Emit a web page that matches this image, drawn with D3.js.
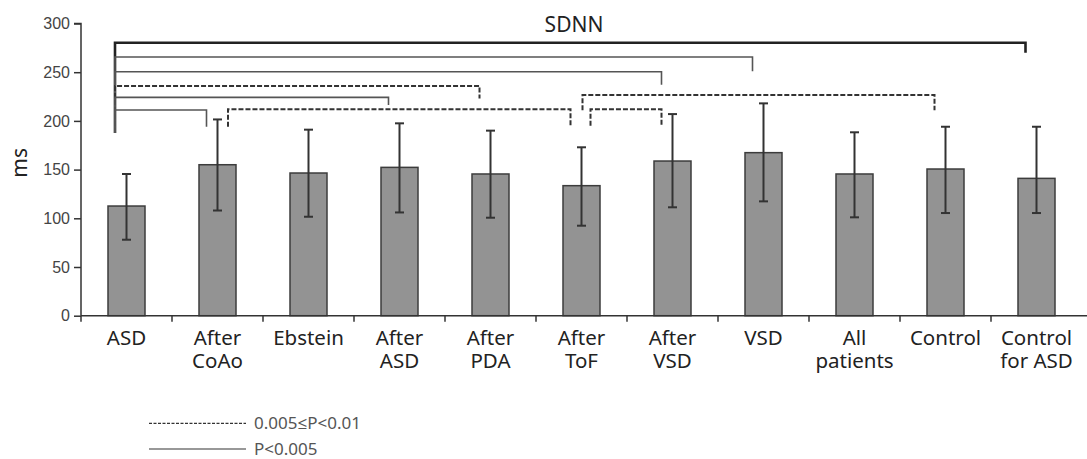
<!DOCTYPE html>
<html>
<head>
<meta charset="utf-8">
<script src="https://cdn.jsdelivr.net/npm/d3@7"></script>
<style>
  body { margin: 0; background: #fff; }
  svg { display: block; font-family: "Noto Sans", "Open Sans", sans-serif; }
</style>
</head>
<body>
<svg width="1087" height="459"></svg>
<script>
const categories = [
  ["ASD"], ["After", "CoAo"], ["Ebstein"], ["After", "ASD"], ["After", "PDA"],
  ["After", "ToF"], ["After", "VSD"], ["VSD"], ["All", "patients"], ["Control"],
  ["Control", "for ASD"]
];
const means = [112.6, 155, 146.5, 152.3, 145.5, 133.5, 158.8, 167.4, 145.5, 150.6, 141];
const err_low = [78, 108, 101.6, 106, 100.6, 92.4, 111.3, 117.4, 101, 105.4, 105.4];
const err_high = [145.5, 201.5, 191, 197.5, 190, 172.9, 207, 218, 188.3, 194, 194];
const y_ticks = [0, 50, 100, 150, 200, 250, 300];

// comparisons: from bar, to bar, level (ms), end of right leg (ms), end of left leg (ms), style
const cmp_from = [0, 0, 0, 0, 0, 0, 1, 5, 5];
const cmp_to = [10, 7, 6, 4, 3, 1, 5, 9, 6];
const cmp_level = [280.3, 265.6, 250.5, 235.8, 224.2, 211.2, 212, 226.6, 212];
const cmp_right_end = [270, 251, 237, 223, 216.3, 194, 195, 211, 195];
const cmp_left_end = [187.6, 187.6, 187.6, 187.6, 187.6, 187.6, 194, 211, 195];
const cmp_type = ["thick", "solid", "solid", "dash", "solid", "solid", "dash", "dash", "dash"];

const legend_labels = ["0.005\u2264P<0.01", "P<0.005"];

// layout
const left_leg_dx = [-11.5, -11.5, -11.5, -11.5, -11.5, -11.5, 10.5, 1, 9];
const right_leg_dx = -11;

const svg = d3.select("svg");
const margin = { left: 81, right: 5, top: 23.5, bottom: 143.3 };
const width = 1087, height = 459;

const x = d3.scaleBand()
  .domain(d3.range(categories.length))
  .range([margin.left, 1082])
  .paddingInner(0);

const y = d3.scaleLinear()
  .domain([0, 300])
  .range([height - margin.bottom, margin.top]);

const bar_w = 37;

// y axis
const y_axis = d3.axisLeft(y)
  .tickValues(y_ticks)
  .tickSize(7)
  .tickPadding(4);

const gy = svg.append("g")
  .attr("transform", `translate(${margin.left},0)`)
  .call(y_axis);
gy.select(".domain").attr("stroke", "#333").attr("stroke-width", 1.5).attr("d", `M-7,${y(300)}H0V${y(0)}`);
gy.selectAll(".tick line").attr("stroke", "#333").attr("stroke-width", 1.5);
gy.selectAll(".tick text").attr("fill", "#444").style("font-size", "16px");

svg.append("text")
  .attr("transform", `translate(27, ${y(157)}) rotate(-90)`)
  .attr("text-anchor", "middle")
  .attr("fill", "#222")
  .style("font-size", "21px")
  .text("ms");

// bars
svg.append("g")
  .selectAll("rect")
  .data(means)
  .join("rect")
  .attr("x", (d, i) => x(i) + x.bandwidth() / 2 - bar_w / 2)
  .attr("y", d => y(d))
  .attr("width", bar_w)
  .attr("height", d => y(0) - y(d))
  .attr("fill", "#939393")
  .attr("stroke", "#3c3c3c")
  .attr("stroke-width", 1.5);

// error bars
const eg = svg.append("g").attr("stroke", "#333").attr("stroke-width", 2);
means.forEach((m, i) => {
  const cx = x(i) + x.bandwidth() / 2;
  eg.append("line").attr("x1", cx).attr("x2", cx).attr("y1", y(err_low[i])).attr("y2", y(err_high[i]));
  eg.append("line").attr("x1", cx - 4.5).attr("x2", cx + 4.5).attr("y1", y(err_low[i])).attr("y2", y(err_low[i]));
  eg.append("line").attr("x1", cx - 4.5).attr("x2", cx + 4.5).attr("y1", y(err_high[i])).attr("y2", y(err_high[i]));
});

// x axis
const gx = svg.append("g");
gx.append("line")
  .attr("x1", margin.left).attr("x2", width)
  .attr("y1", y(0)).attr("y2", y(0))
  .attr("stroke", "#333").attr("stroke-width", 1.5);
gx.selectAll(".xtick")
  .data(d3.range(categories.length))
  .join("line")
  .attr("x1", i => x(i)).attr("x2", i => x(i))
  .attr("y1", y(0)).attr("y2", y(0) + 6)
  .attr("stroke", "#333").attr("stroke-width", 1.5);

// one text per label line
categories.forEach((lines, i) => {
  lines.forEach((t, j) => {
    gx.append("text")
      .attr("text-anchor", "middle")
      .attr("fill", "#222")
      .style("font-size", "20.5px")
      .attr("x", x(i) + x.bandwidth() / 2)
      .attr("y", y(0) + 29 + j * 23.7)
      .text(t);
  });
});

// title
svg.append("text")
  .attr("x", 574)
  .attr("y", 32)
  .attr("text-anchor", "middle")
  .attr("fill", "#222")
  .style("font-size", "21px")
  .text("SDNN");

// comparison brackets
const line_style = {
  thick: { w: 2.6, c: "#222", dash: null },
  solid: { w: 1.6, c: "#555", dash: null },
  dash: { w: 2, c: "#333", dash: "5,2" }
};
const bg = svg.append("g").attr("fill", "none");
cmp_from.forEach((f, k) => {
  const s = line_style[cmp_type[k]];
  const x1 = x(f) + x.bandwidth() / 2 + left_leg_dx[k];
  const x2 = x(cmp_to[k]) + x.bandwidth() / 2 + right_leg_dx;
  bg.append("path")
    .attr("d", `M${x1},${y(cmp_left_end[k])}V${y(cmp_level[k])}H${x2}V${y(cmp_right_end[k])}`)
    .attr("stroke", s.c)
    .attr("stroke-width", s.w)
    .attr("stroke-dasharray", s.dash);
});

// legend
const lg = svg.append("g");
[["3,1.5", 423.3], [null, 449]].forEach(([dash, ly], i) => {
  lg.append("line")
    .attr("x1", 149).attr("x2", 246)
    .attr("y1", ly).attr("y2", ly)
    .attr("stroke", "#333").attr("stroke-width", 1.2)
    .attr("stroke-dasharray", dash);
  lg.append("text")
    .attr("x", 254).attr("y", ly + 5.5)
    .attr("fill", "#555")
    .style("font-size", "17px")
    .text(legend_labels[i]);
});
</script>
</body>
</html>
